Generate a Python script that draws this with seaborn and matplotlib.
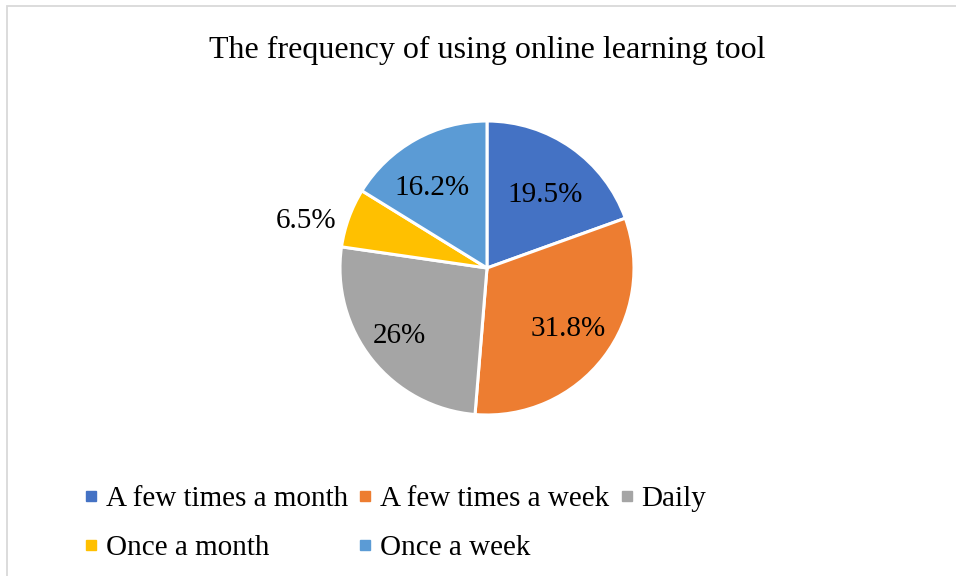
import matplotlib
matplotlib.use('Agg')
import matplotlib.pyplot as plt
import seaborn as sns
import numpy as np
from matplotlib.lines import Line2D
from matplotlib.patches import Rectangle

# data
categories = ['A few times a month', 'A few times a week', 'Daily', 'Once a month', 'Once a week']
shares = [19.5, 31.8, 26, 6.5, 16.2]
colors = ['#4472C4', '#ED7D31', '#A5A5A5', '#FFC000', '#5B9BD5']
title = 'The frequency of using online learning tool'

sns.set_theme(style='white')
plt.rcParams['font.family'] = ['Liberation Serif', 'DejaVu Serif']
plt.rcParams['text.color'] = 'black'

W, H = 956, 576
fig = plt.figure(figsize=(W / 100, H / 100), dpi=100)

# light grey chart frame (cut off at right and bottom like the screenshot)
fig.patches.append(Rectangle((6.5 / W, -0.1), 1.2, 1 - 5.5 / H + 0.1,
                             transform=fig.transFigure, fill=False,
                             edgecolor='#D9D9D9', linewidth=1.3))

# pie axes: centre (487, 268) px, radius 147 px
cx, cy, r = 487, 268, 147
ax = fig.add_axes([(cx - r) / W, (H - cy - r) / H, 2 * r / W, 2 * r / H])
wedges, _ = ax.pie(shares, colors=colors, startangle=90, counterclock=False,
                   wedgeprops=dict(edgecolor='white', linewidth=2.2))
ax.set_xlim(-1, 1)
ax.set_ylim(-1, 1)
ax.axis('off')

# data labels: distance from centre (radius units) and angle nudge (deg)
label_dist = [0.65, 0.68, 0.74, 1.28, 0.68]
label_nudge = [-2.5, 2, -2, 4.6, 4.3]
for w, v, d, n in zip(wedges, shares, label_dist, label_nudge):
    ang = np.deg2rad((w.theta1 + w.theta2) / 2 + n)
    ax.annotate(f'{v:g}%', (d * np.cos(ang), d * np.sin(ang)), xytext=(0, -3),
                textcoords='offset pixels', ha='center', va='center',
                fontsize=21, color='black', annotation_clip=False)

fig.text(cx / W, 1 - 58 / H, title, ha='center', va='baseline', fontsize=23, color='black')

# legend, row-major order like Excel
handles = [Line2D([], [], marker='s', linestyle='', color=c, markersize=7) for c in colors]
order = [0, 3, 1, 4, 2]
fig.legend([handles[i] for i in order], [categories[i] for i in order],
           loc='upper left', bbox_to_anchor=(84 / W, 1 - 486 / H), ncol=3,
           frameon=False, fontsize=21, handlelength=0.5, handletextpad=0.25,
           columnspacing=0.35, labelspacing=0.75, borderaxespad=0, borderpad=0,
           labelcolor='black')

fig.savefig('out.png', dpi=100)
